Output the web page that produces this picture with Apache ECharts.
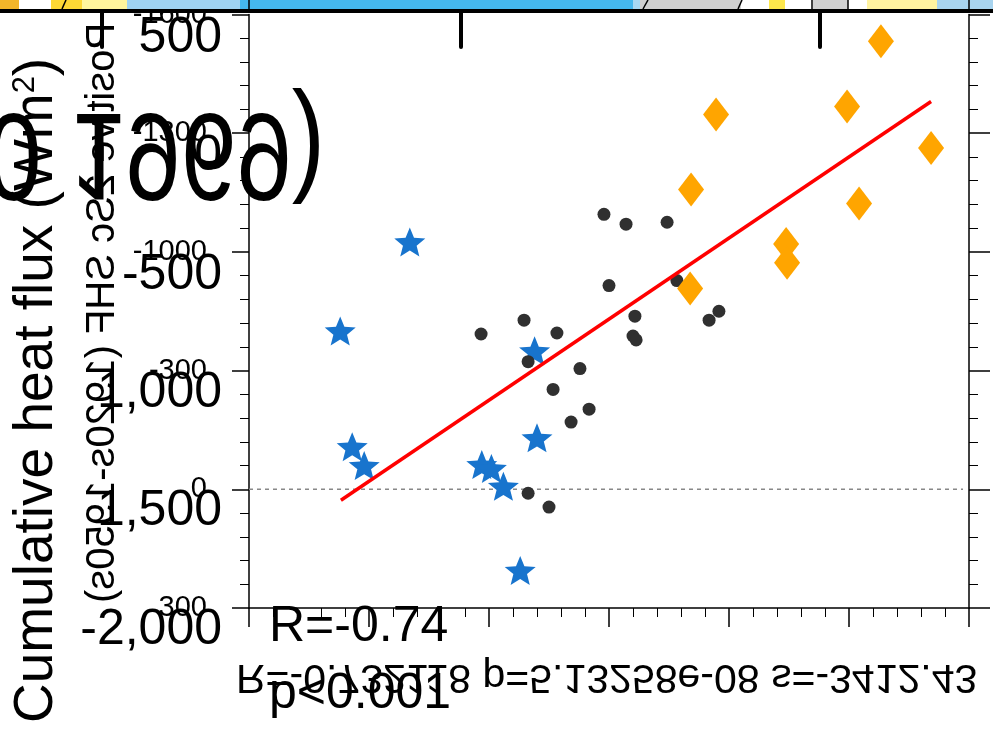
<!DOCTYPE html>
<html><head><meta charset="utf-8">
<script src="https://cdn.jsdelivr.net/npm/echarts@6/dist/echarts.min.js"></script>
<style>html,body{margin:0;padding:0;background:#fff;overflow:hidden}#c{width:993px;height:735px}</style>
</head><body><div id="c"></div>
<script>
// ---- data (x: index value, y: cumulative heat flux) ----
const starX = [0.067, 0.038, 0.043, 0.048, 0.097, 0.101, 0.106, 0.119, 0.120, 0.113];
const starY = [-625, -400, -107.5, -60, -62.5, -52.5, -7.5, -350, -130, 205];
const dotX = [0.0967, 0.1146, 0.1283, 0.1163, 0.1379, 0.1267, 0.1417, 0.1342, 0.1163, 0.125,
              0.1479, 0.1571, 0.1742, 0.15, 0.1783, 0.1608, 0.16, 0.1613, 0.1917, 0.1958];
const dotY = [-392.5, -427.5, -395, -322.5, -305, -252.5, -202.5, -170, 10, 45,
              -695, -670, -675, -515, -527.5, -437.5, -387.5, -377.5, -427.5, -450];
const diaX = [0.2633, 0.1946, 0.2492, 0.2842, 0.1842, 0.2542, 0.2238, 0.2242, 0.1838];
const diaY = [-1132.5, -947.5, -967.5, -862.5, -757.5, -722.5, -620, -572.5, -507.5];
const fitX = [0.0383, 0.2842];
const fitY = [27.5, -980];
const zeroX = [0, 0.2975];
const yTickValues = [-1200, -900, -600, -300, 0, 300];
const yTickLabels = ["-1600", "-1300", "-1000", "-300", "0", "300"];
const bigTickValues = [-2000, -1500, -1000, -500, 0, 500];
const bigTickLabels = ["-2,000", "1,500", "1,000", "-500", "0", "500"];
const titleText = "Cumulative heat flux (Wm";
const titleSup = "2";
const mirrorText = "Positive 2Sc SHF (1920s-1950s)";
const flipTitle = "0 1969)";
const statR = "R=-0.74";
const statP = "p<0.001";
const flippedStats = "R=-0.732118 p=5.13258e-08 s=-3412.43";

const zip = (a, b) => a.map((v, i) => [v, b[i]]);
const FONT = "'Liberation Sans', Arial, sans-serif";
const starPath = 'path://M50 0 L62.93 32.2 L97.55 34.55 L70.92 56.8 L79.39 90.45 L50 72 L20.61 90.45 L29.08 56.8 L2.45 34.55 L37.07 32.2 Z';

const chart = echarts.init(document.getElementById('c'), null, {renderer: 'canvas'});

const strip = [
  [0, 19, '#f3b52a'], [19, 51, '#ffffff'], [51, 82, '#fdd835'], [82, 127, '#fff59d'],
  [127, 240, '#9fd3f2'], [240, 633, '#45b8ee'], [633, 640, '#a6d8f3'], [640, 741, '#d0d0d0'],
  [741, 769, '#ffffff'], [769, 785, '#fde74c'], [785, 813, '#ffffff'], [813, 848, '#d0d0d0'],
  [848, 867, '#ffffff'], [867, 937, '#fff3a0'], [937, 993, '#a8d4ef']
];
const graphics = [];
strip.forEach(s => graphics.push({type: 'rect', z: 50, shape: {x: s[0], y: 0, width: s[1] - s[0], height: 9}, style: {fill: s[2]}}));
[[62, 9, 66, 0], [643, 9, 648, 0], [738, 9, 742, 0], [812, 9, 812, 0], [848, 9, 848, 0], [249, 0, 249, 10], [969, 0, 969, 10]].forEach(l =>
  graphics.push({type: 'line', z: 51, shape: {x1: l[0], y1: l[1], x2: l[2], y2: l[3]}, style: {stroke: '#000', lineWidth: 1.5}}));
graphics.push({type: 'rect', z: 52, shape: {x: 0, y: 9, width: 993, height: 4}, style: {fill: '#000'}});
[102, 461, 820].forEach(x => graphics.push({type: 'line', z: 52, shape: {x1: x, y1: 11, x2: x, y2: 47},
  style: {stroke: '#000', lineWidth: 4, lineCap: 'round'}}));

// vertical axis title
graphics.push({type: 'text', z: 40, x: 37, y: 723, rotation: Math.PI / 2,
  style: {text: titleText + '{s|' + titleSup + '})', fill: '#000', font: '55px ' + FONT,
    textAlign: 'left', textVerticalAlign: 'middle',
    rich: {s: {fontSize: 31, fontFamily: FONT, fill: '#000', verticalAlign: 'top', lineHeight: 55}}}});
// mirrored rotated subtitle
graphics.push({type: 'text', z: 40, x: 103, y: 603, rotation: Math.PI / 2, scaleX: -1,
  style: {text: mirrorText, fill: '#000', font: '40px ' + FONT, textAlign: 'right', textVerticalAlign: 'middle'}});
// big flipped panel title
graphics.push({type: 'text', z: 45, x: -14, y: 148, scaleY: -1.25,
  style: {text: flipTitle, fill: '#000', font: '100px ' + FONT, textAlign: 'left', textVerticalAlign: 'middle'}});
// statistics
graphics.push({type: 'text', z: 40, x: 269, y: 627,
  style: {text: statR, fill: '#000', font: '50px ' + FONT, textAlign: 'left', textVerticalAlign: 'middle'}});
graphics.push({type: 'text', z: 40, x: 269, y: 694,
  style: {text: statP, fill: '#000', font: '50px ' + FONT, textAlign: 'left', textVerticalAlign: 'middle'}});
graphics.push({type: 'text', z: 40, x: 236, y: 676, scaleY: -1,
  style: {text: flippedStats, fill: '#000', font: '41px ' + FONT, textAlign: 'left', textVerticalAlign: 'middle'}});

const axisStyle = {lineStyle: {color: '#000', width: 1.5}};
const option = {
  animation: false,
  backgroundColor: '#fff',
  grid: [
    {left: 249, top: 8, width: 720, height: 600},
    {left: 232, top: 38, width: 1, height: 592}
  ],
  xAxis: [
    {gridIndex: 0, type: 'value', min: 0, max: 0.3, interval: 0.05,
      axisLine: {show: true, onZero: false, ...axisStyle},
      axisTick: {show: true, inside: false, length: 19, lineStyle: {color: '#000', width: 1.5}},
      minorTick: {show: true, splitNumber: 5, length: 9, lineStyle: {color: '#000', width: 1}},
      axisLabel: {show: false}, splitLine: {show: false}, minorSplitLine: {show: false}},
    {gridIndex: 1, type: 'value', min: 0, max: 1, show: false}
  ],
  yAxis: [
    {gridIndex: 0, type: 'value', min: -1200, max: 300, interval: 300, inverse: true, position: 'left',
      axisLine: {show: true, onZero: false, ...axisStyle},
      axisTick: {show: true, inside: false, length: 17, lineStyle: {color: '#000', width: 1.5}},
      minorTick: {show: true, splitNumber: 5, length: 9, lineStyle: {color: '#000', width: 1}},
      axisLabel: {show: true, margin: 42, color: '#000', fontSize: 29, fontFamily: FONT, padding: [0, 0, 8, 0],
        formatter: v => { const i = yTickValues.indexOf(v); return i >= 0 ? yTickLabels[i] : ''; }},
      splitLine: {show: false}},
    {gridIndex: 0, type: 'value', min: -1200, max: 300, interval: 300, inverse: true, position: 'right',
      axisLine: {show: true, onZero: false, ...axisStyle},
      axisTick: {show: true, inside: false, length: 21, lineStyle: {color: '#000', width: 1.5}},
      minorTick: {show: true, splitNumber: 5, length: 9, lineStyle: {color: '#000', width: 1}},
      axisLabel: {show: false}, splitLine: {show: false}},
    {gridIndex: 1, type: 'value', min: -2000, max: 500, interval: 500, position: 'left',
      axisLine: {show: false}, axisTick: {show: false}, splitLine: {show: false},
      axisLabel: {show: true, margin: 10, color: '#000', fontSize: 50, fontFamily: FONT,
        formatter: v => { const i = bigTickValues.indexOf(v); return i >= 0 ? bigTickLabels[i] : ''; }}}
  ],
  series: [
    {type: 'line', xAxisIndex: 0, yAxisIndex: 0, data: zip(zeroX, [0, 0]), symbol: 'none', silent: true, z: 1,
      lineStyle: {color: '#888', width: 1.5, type: [4, 4]}},
    {type: 'scatter', xAxisIndex: 0, yAxisIndex: 0, data: zip(starX, starY), symbol: starPath, symbolSize: [31, 29],
      itemStyle: {color: '#1874cd', opacity: 1}, z: 2},
    {type: 'scatter', xAxisIndex: 0, yAxisIndex: 0, data: zip(dotX, dotY), symbol: 'circle', symbolSize: 13,
      itemStyle: {color: '#303030', opacity: 1}, z: 3},
    {type: 'scatter', xAxisIndex: 0, yAxisIndex: 0, data: zip(diaX, diaY), symbol: 'diamond', symbolSize: [26, 34],
      itemStyle: {color: '#FFA500', opacity: 1}, z: 4},
    {type: 'line', xAxisIndex: 0, yAxisIndex: 0, data: zip(fitX, fitY), symbol: 'none', silent: true, z: 5,
      lineStyle: {color: '#ff0000', width: 3.5}}
  ],
  graphic: graphics
};
chart.setOption(option);
</script></body></html>
